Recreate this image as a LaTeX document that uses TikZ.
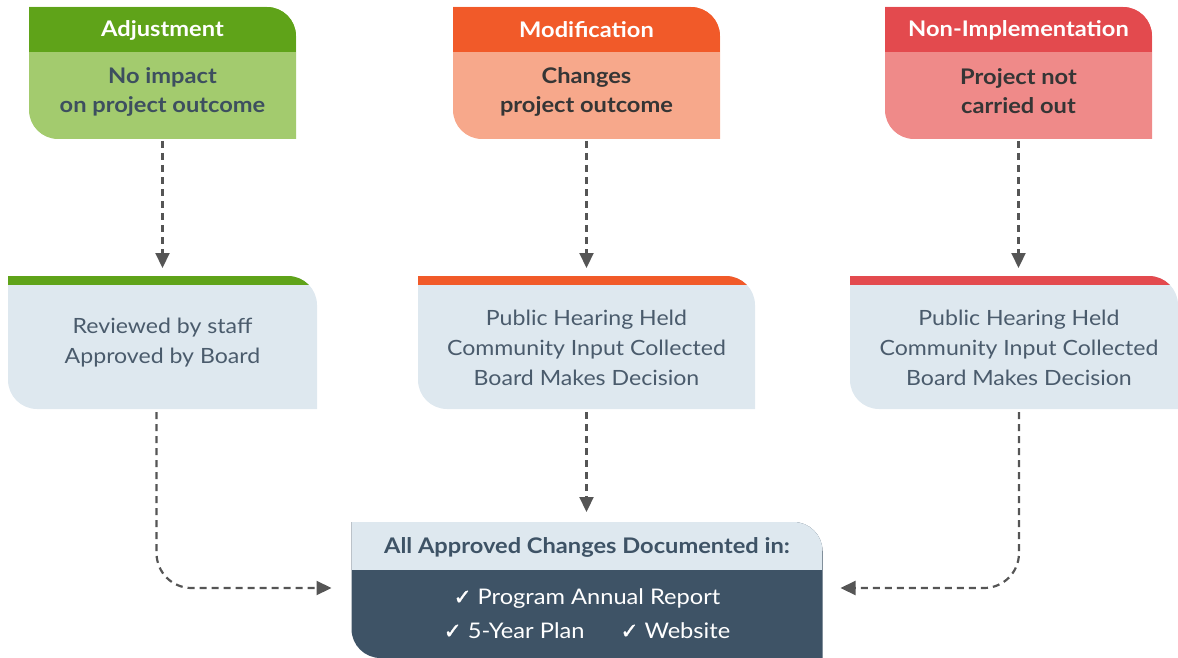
\documentclass[tikz,border=0pt]{standalone}
\usepackage{fontspec}
\setmainfont{Lato}[FakeStretch=1.1]
\newfontfamily\dejavu{DejaVu Sans}[FakeBold=1.5]
\usetikzlibrary{calc,arrows.meta}
\definecolor{gdark}{HTML}{5FA319}
\definecolor{glight}{HTML}{A3CB6E}
\definecolor{odark}{HTML}{F15A29}
\definecolor{olight}{HTML}{F7A88B}
\definecolor{rdark}{HTML}{E34A4E}
\definecolor{rlight}{HTML}{EF8A89}
\definecolor{pale}{HTML}{DEE8EF}
\definecolor{slate}{HTML}{3E5366}
\definecolor{txtslate}{HTML}{3D4F5F}
\definecolor{txtgray}{HTML}{353535}
\definecolor{txtmid}{HTML}{4A5B6C}
\definecolor{arr}{HTML}{555555}
\newcommand\rr{29}
\newcommand\kk{16}
\newcommand\ck{{\dejavu\char"2713}}
\tikzset{
  shp/.style={insert path={(NW) -- ($(NE)+(-\rr,0)$) .. controls ($(NE)+(-\rr+\kk,0)$) and ($(NE)+(0,\rr-\kk)$) .. ($(NE)+(0,\rr)$) -- (SE) -- ($(SW)+(\rr,0)$) .. controls ($(SW)+(\rr-\kk,0)$) and ($(SW)+(0,-\rr+\kk)$) .. ($(SW)+(0,-\rr)$) -- cycle}},
  fancy/.style n args={3}{inner sep=0pt, outer sep=0pt, path picture={
    \coordinate (NW) at (path picture bounding box.north west);
    \coordinate (NE) at (path picture bounding box.north east);
    \coordinate (SE) at (path picture bounding box.south east);
    \coordinate (SW) at (path picture bounding box.south west);
    \fill[#1, shp];
    \begin{scope}
      \clip[shp];
      \fill[#2] (NW) rectangle ($(NE)+(0,#3)$);
    \end{scope}
  }},
  htext/.style={text=white, font=\fontsize{21.5}{26}\selectfont\bfseries, inner sep=0pt},
  btext/.style={font=\fontsize{21.5}{29}\selectfont\bfseries, align=center, inner sep=0pt},
  mtext/.style={text=txtmid, font=\fontsize{21}{30}\selectfont, align=center, inner sep=0pt},
  conn/.style={draw=arr, line width=2.2pt, dash pattern=on 7pt off 5pt, -{Triangle[length=15pt,width=14pt]}},
}
\begin{document}
\begin{tikzpicture}[x=1pt,y=-1pt]
\useasboundingbox (0,0) rectangle (1178,658);
% top boxes
\node[fancy={glight}{gdark}{45}, minimum width=267pt, minimum height=132pt] (A) at (162.5,73) {};
\node[fancy={olight}{odark}{45}, minimum width=267pt, minimum height=132pt] (M) at (586.5,73) {};
\node[fancy={rlight}{rdark}{45}, minimum width=267pt, minimum height=132pt] (N) at (1018.5,73) {};
\node[htext] (Ah) at (162.5,30) {Adjustment};
\node[htext] (Mh) at (586.5,30) {Modification};
\node[htext] (Nh) at (1018.5,30) {Non-Implementation};
\node[btext, text=txtslate] (Ab) at (162.5,91.5) {No impact\\on project outcome};
\node[btext, text=txtgray] (Mb) at (586.5,91.5) {Changes\\project outcome};
\node[btext, text=txtgray] (Nb) at (1018.5,91.5) {Project not\\carried out};
% middle boxes
\node[fancy={pale}{gdark}{9}, minimum width=309pt, minimum height=133pt] (B1) at (162.5,342.5) {};
\node[fancy={pale}{odark}{9}, minimum width=337pt, minimum height=133pt] (B2) at (586.5,342.5) {};
\node[fancy={pale}{rdark}{9}, minimum width=328pt, minimum height=133pt] (B3) at (1014,342.5) {};
\node[mtext] (B1t) at (162.5,342.5) {Reviewed by staff\\Approved by Board};
\node[mtext] (B2t) at (586.5,347.5) {Public Hearing Held\\Community Input Collected\\Board Makes Decision};
\node[mtext] (B3t) at (1019,347.5) {Public Hearing Held\\Community Input Collected\\Board Makes Decision};
% bottom box
\node[fancy={slate}{pale}{48}, minimum width=471pt, minimum height=136pt] (C) at (587,590) {};
\node[htext, text=slate, font=\fontsize{21.5}{24}\selectfont\bfseries] (Ch) at (587,547) {All Approved Changes Documented in:};
\node[mtext, text=white, font=\fontsize{21.5}{34}\selectfont] (Cb) at (587,613.5) {\ck\ Program Annual Report\\\ck\ 5-Year Plan\hspace{36pt}\ck\ Website};
% connectors
\draw[conn, shorten <=2pt, shorten >=8pt] (A.south) -- (A.south |- B1.north);
\draw[conn, shorten <=2pt, shorten >=8pt] (M.south) -- (M.south |- B2.north);
\draw[conn, shorten <=2pt, shorten >=8pt] (N.south) -- (N.south |- B3.north);
\draw[conn, shorten <=3pt, shorten >=10pt] (B2.south) -- (B2.south |- C.north);
\draw[conn, rounded corners=35pt, shorten <=3pt, shorten >=20pt] ([xshift=-6pt]B1.south) |- ([yshift=2pt]C.west);
\draw[conn, rounded corners=35pt, shorten <=3pt, shorten >=18pt] ([xshift=5pt]B3.south) |- ([yshift=2pt]C.east);
\end{tikzpicture}
\end{document}
